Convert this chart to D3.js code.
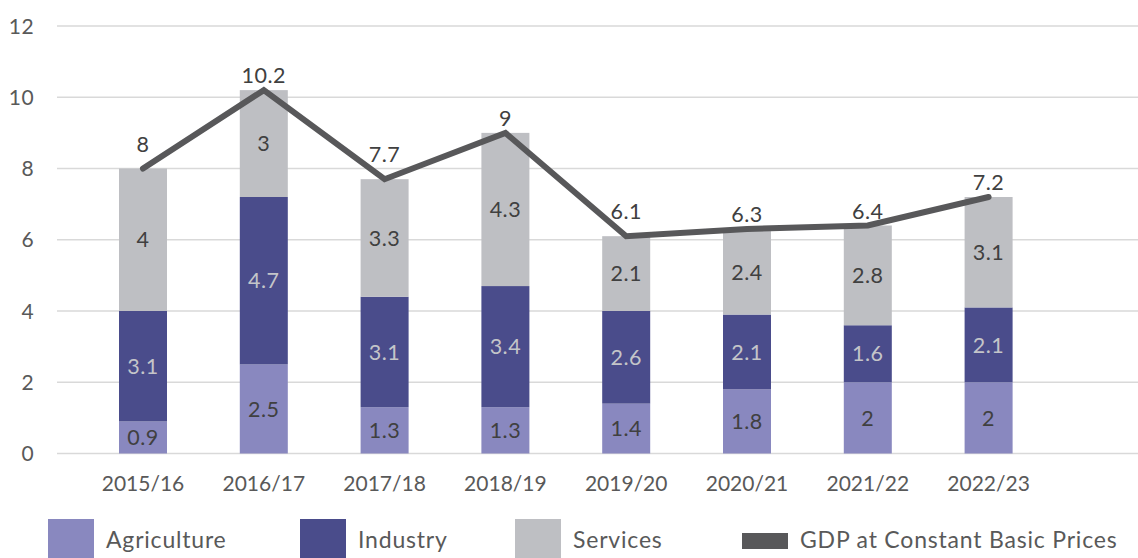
<!DOCTYPE html>
<html><head><meta charset="utf-8">
<script src="https://cdn.jsdelivr.net/npm/d3@7"></script>
<style>
html,body{margin:0;padding:0;background:#fff;}
svg{display:block;font-family:Lato, "Open Sans", sans-serif;}
</style></head>
<body><svg id="c" width="1138" height="558"></svg>
<script>
const categories = ["2015/16","2016/17","2017/18","2018/19","2019/20","2020/21","2021/22","2022/23"];
const agriculture = [0.9,2.5,1.3,1.3,1.4,1.8,2,2];
const industry    = [3.1,4.7,3.1,3.4,2.6,2.1,1.6,2.1];
const services    = [4,3,3.3,4.3,2.1,2.4,2.8,3.1];
const gdp         = [8,10.2,7.7,9,6.1,6.3,6.4,7.2];
const yTicks      = [0,2,4,6,8,10,12];
const seriesNames = ["Agriculture","Industry","Services","GDP at Constant Basic Prices"];

const colors = {Agriculture:"#8988BF", Industry:"#4A4C8B", Services:"#BEBFC3", GDP:"#58585A"};
const labelColors = {Agriculture:"#404040", Industry:"#C4C5C9", Services:"#404040"};

const svg = d3.select("#c");
const x = d3.scaleBand().domain(categories).range([82.6,1049]).paddingInner(0.6).paddingOuter(0.3);
const y = d3.scaleLinear().domain([0,12]).range([453.5,26]);

// gridlines
svg.append("g").selectAll("line").data(yTicks).join("line")
  .attr("x1",57).attr("x2",1138)
  .attr("y1",d=>y(d)).attr("y2",d=>y(d))
  .attr("stroke","#D9D9D9").attr("stroke-width",1.5);

// y tick labels
svg.append("g").selectAll("text").data(yTicks).join("text")
  .attr("x",34).attr("y",d=>y(d)).attr("dy","0.36em")
  .attr("text-anchor","end").attr("font-size",21).attr("fill","#595959")
  .attr("letter-spacing",0.4)
  .text(d=>d);

// stacked bars
const rows = categories.map((c,i)=>({cat:c, Agriculture:agriculture[i], Industry:industry[i], Services:services[i]}));
const stack = d3.stack().keys(["Agriculture","Industry","Services"])(rows);
const bw = 48;
stack.forEach(layer=>{
  const g = svg.append("g");
  g.selectAll("rect").data(layer).join("rect")
    .attr("x",d=>x(d.data.cat)+x.bandwidth()/2-bw/2)
    .attr("width",bw)
    .attr("y",d=>y(d[1]))
    .attr("height",d=>y(d[0])-y(d[1]))
    .attr("fill",colors[layer.key]);
  g.selectAll("text").data(layer).join("text")
    .attr("x",d=>x(d.data.cat)+x.bandwidth()/2)
    .attr("y",d=>(y(d[0])+y(d[1]))/2).attr("dy","0.36em")
    .attr("text-anchor","middle").attr("font-size",21.5).attr("letter-spacing",0.5)
    .attr("fill",labelColors[layer.key])
    .text(d=>d.data[layer.key]);
});

// line
const cx = c=>x(c)+x.bandwidth()/2;
const line = d3.line().x((d,i)=>cx(categories[i])).y(d=>y(d));
svg.append("path").datum(gdp).attr("d",line)
  .attr("fill","none").attr("stroke",colors.GDP).attr("stroke-width",6)
  .attr("stroke-linecap","round").attr("stroke-linejoin","miter");

// line labels (raised when a neighbouring point is much higher)
svg.append("g").selectAll("text").data(gdp).join("text")
  .attr("x",(d,i)=>cx(categories[i]))
  .attr("y",(d,i)=>{
    const nb=[gdp[i-1],gdp[i+1]].filter(v=>v!==undefined);
    const steep = nb.some(v=>v-d>1);
    return y(d)-(steep?17:7);
  })
  .attr("text-anchor","middle").attr("font-size",21.5).attr("letter-spacing",0.5).attr("fill","#404040")
  .text(d=>d);

// x labels
svg.append("g").selectAll("text").data(categories).join("text")
  .attr("x",d=>cx(d)).attr("y",491)
  .attr("text-anchor","middle").attr("font-size",21).attr("fill","#595959")
  .text(d=>d);

// legend
const legX = [48,300,515,742];
const lg = svg.append("g");
seriesNames.forEach((n,i)=>{
  const isLine = i===3;
  lg.append("rect").attr("x",legX[i]).attr("width",46)
    .attr("y",isLine?533:519).attr("height",isLine?16:39)
    .attr("fill",isLine?colors.GDP:colors[n]);
  lg.append("text").attr("x",legX[i]+58).attr("y",548)
    .attr("font-size",23).attr("letter-spacing",0.8).attr("fill","#595959").text(n);
});
</script></body></html>
